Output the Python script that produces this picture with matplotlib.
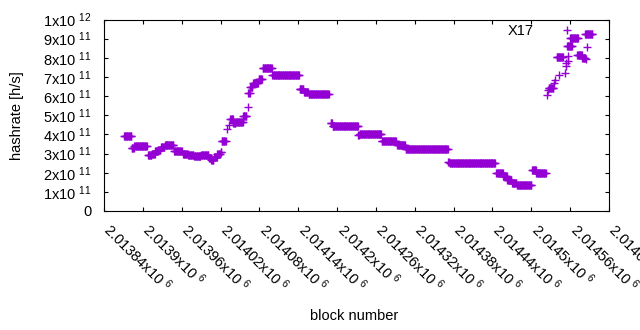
import numpy as np
import matplotlib
matplotlib.use('Agg')
import matplotlib.pyplot as plt
from matplotlib.transforms import ScaledTranslation

# runs of blocks with (roughly) the same hashrate: first block, last block, hashrate [1e11 h/s]
run_first = [2013871, 2013883, 2013887, 2013908, 2013914, 2013919, 2013924, 2013928,
             2013934, 2013948, 2013962, 2013970, 2013979, 2013990, 2014002, 2014006,
             2014010, 2014015, 2014020, 2014022, 2014030, 2014033, 2014035, 2014040,
             2014044, 2014055, 2014062, 2014063, 2014066, 2014070, 2014079, 2014085,
             2014100, 2014142, 2014149, 2014156, 2014190, 2014193, 2014233, 2014235,
             2014269, 2014293, 2014306, 2014372, 2014374, 2014446, 2014457, 2014463,
             2014470, 2014478, 2014501, 2014508, 2014524, 2014526, 2014527, 2014535,
             2014537, 2014539, 2014542, 2014552, 2014553, 2014554, 2014556, 2014557,
             2014555, 2014560, 2014571, 2014579, 2014585, 2014586, 2014583]
run_last = [2013882, 2013886, 2013906, 2013913, 2013918, 2013923, 2013927, 2013933,
            2013947, 2013960, 2013969, 2013978, 2013989, 2014001, 2014005, 2014009,
            2014014, 2014019, 2014021, 2014028, 2014030, 2014033, 2014039, 2014043,
            2014054, 2014060, 2014062, 2014065, 2014069, 2014078, 2014084, 2014099,
            2014141, 2014148, 2014155, 2014187, 2014192, 2014232, 2014234, 2014268,
            2014291, 2014305, 2014371, 2014373, 2014444, 2014456, 2014462, 2014469,
            2014477, 2014500, 2014507, 2014522, 2014524, 2014526, 2014534, 2014535,
            2014537, 2014549, 2014542, 2014552, 2014553, 2014554, 2014556, 2014557,
            2014563, 2014572, 2014578, 2014583, 2014585, 2014586, 2014594]
run_rate = [3.93, 3.27, 3.38, 2.91, 2.99, 3.12, 3.21, 3.34,
            3.43, 3.11, 2.98, 2.94, 2.86, 2.92, 2.78, 2.66,
            2.80, 2.97, 3.10, 3.67, 4.30, 4.51, 4.82, 4.58,
            4.67, 4.96, 5.41, 6.15, 6.49, 6.71, 6.89, 7.45,
            7.09, 6.35, 6.19, 6.11, 4.58, 4.46, 3.97, 4.02,
            3.64, 3.43, 3.24, 2.58, 2.49, 1.96, 1.81, 1.63,
            1.48, 1.35, 2.13, 2.01, 6.06, 6.32, 6.41, 6.67,
            6.84, 8.03, 7.10, 7.19, 7.59, 7.71, 7.85, 8.09,
            8.62, 9.02, 8.17, 8.00, 7.92, 8.55, 9.26]

x_tick_values = [2013840, 2013900, 2013960, 2014020, 2014080, 2014140, 2014200,
                 2014260, 2014320, 2014380, 2014440, 2014500, 2014560, 2014620]
x_tick_labels = ['2.01384', '2.0139', '2.01396', '2.01402', '2.01408', '2.01414', '2.0142',
                 '2.01426', '2.01432', '2.01438', '2.01444', '2.0145', '2.01456', '2.01462']
y_tick_values = [0, 1e11, 2e11, 3e11, 4e11, 5e11, 6e11, 7e11, 8e11, 9e11, 1e12]
y_tick_labels = ['0'] + [f'{k}x10 $^{{11}}$' for k in range(1, 10)] + ['1x10 $^{12}$']

plt.rcParams['font.family'] = ['Liberation Sans', 'DejaVu Sans']
plt.rcParams['mathtext.fontset'] = 'custom'
plt.rcParams['mathtext.rm'] = 'Liberation Sans'
plt.rcParams['mathtext.it'] = 'Liberation Sans:italic'
plt.rcParams['mathtext.bf'] = 'Liberation Sans:bold'

blocks = np.concatenate([np.arange(a, b + 1) for a, b in zip(run_first, run_last)])
rates = np.concatenate([np.full(b - a + 1, r) for a, b, r in zip(run_first, run_last, run_rate)]) * 1e11

fig = plt.figure(figsize=(6.4, 3.3), dpi=100)
ax = fig.add_axes([104 / 640, 1 - 211 / 330, 505 / 640, 191.5 / 330])

ax.plot(blocks, rates, linestyle='none', marker='+', markersize=6,
        markeredgewidth=1.0, color='#9400d3', label='X17')

fs = 10.5
ax.set_xlim(2013840, 2014620)
ax.set_ylim(0, 1e12)
ax.set_yticks(y_tick_values)
ax.set_yticklabels(y_tick_labels, fontsize=fs)
ax.set_xticks(x_tick_values)
ax.set_xticklabels([s + 'x10 $^{6}$' for s in x_tick_labels], fontsize=fs)
ax.tick_params(direction='in', length=3, width=0.8, top=True, right=True, color='black')
ax.tick_params(axis='y', pad=9)
ax.tick_params(axis='x', pad=11)
for lab in ax.get_xticklabels():
    lab.set_rotation(-45)
    lab.set_ha('left')
    lab.set_va('center')
    lab.set_rotation_mode('anchor')
    lab.set_transform(lab.get_transform() + ScaledTranslation(3 / 100, 0, fig.dpi_scale_trans))
for sp in ax.spines.values():
    sp.set_linewidth(0.8)

ax.set_ylabel('hashrate [h/s]', fontsize=fs)
ax.yaxis.set_label_coords(-80 / 505, 0.5)
ax.set_xlabel('block number', fontsize=fs)
ax.xaxis.set_label_coords(0.495, -98 / 191.5)

ax.legend(loc='upper right', bbox_to_anchor=(0.946, 0.975), frameon=False, markerfirst=False,
          fontsize=fs, handlelength=2.0, handletextpad=1.3, borderpad=0, borderaxespad=0)

fig.savefig('out.png', dpi=100)
